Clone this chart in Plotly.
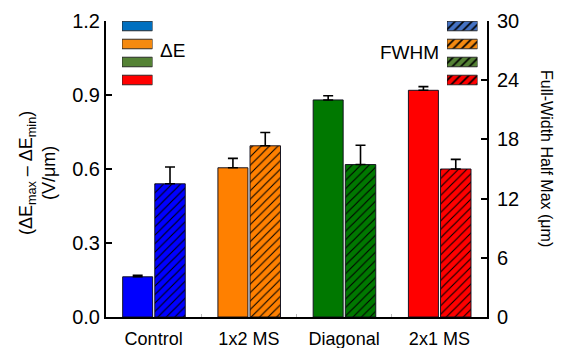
import plotly.graph_objects as go

categories = ["Control", "1x2 MS", "Diagonal", "2x1 MS"]
delta_e = [0.163, 0.605, 0.880, 0.919]
delta_e_err = [0.006, 0.038, 0.017, 0.015]
fwhm = [13.5, 17.35, 15.45, 15.0]
fwhm_err = [1.7, 1.35, 1.95, 0.98]

bar_colors = ["#0000FF", "#FF8000", "#007800", "#FF0000"]
legend_solid_colors = ["#0070C0", "#F58A10", "#548235", "#FF0000"]
legend_hatch_colors = ["#4472C4", "#F58A10", "#548235", "#FF0000"]
legend_rows = [0, 1, 2, 3]

W, H = 561, 348
L, R, T, B = 106, 487, 21, 317

def px_x(p):
    return (p - L) / (R - L)

def px_y(p):
    return (B - p) / (B - T)

FONT = "Liberation Sans, Arial, sans-serif"
OUTLINE = dict(color="rgba(15,15,30,0.95)", width=1)

fig = go.Figure()

fig.add_trace(go.Bar(
    x=categories, y=delta_e, yaxis="y", xaxis="x",
    offset=-0.325, width=0.315,
    marker=dict(color=bar_colors, line=OUTLINE),
    error_y=dict(type="data", symmetric=False, array=delta_e_err,
                 arrayminus=[0] * 4, color="black", thickness=1.6, width=5),
    showlegend=False,
))
for cat, val, err, col in zip(categories, fwhm, fwhm_err, bar_colors):
    fig.add_trace(go.Bar(
        x=[cat], y=[val], yaxis="y2", xaxis="x",
        offset=0.012, width=0.32,
        marker=dict(color=col, line=OUTLINE,
                    pattern=dict(shape="/", fillmode="replace", bgcolor=col,
                                 fgcolor="black", fgopacity=1, size=6, solidity=0.18)),
        error_y=dict(type="data", symmetric=False, array=[err],
                     arrayminus=[0], color="black", thickness=1.6, width=5),
        showlegend=False,
    ))

# legend swatches
fig.add_trace(go.Bar(
    x=[1] * 4, y=legend_rows, orientation="h", xaxis="x3", yaxis="y3",
    width=0.53, base=0,
    marker=dict(color=legend_solid_colors, line=dict(color="rgba(30,30,30,0.9)", width=1)),
    showlegend=False, hoverinfo="skip",
))
for row, col in zip(legend_rows, legend_hatch_colors):
    fig.add_trace(go.Bar(
        x=[1], y=[row], orientation="h", xaxis="x4", yaxis="y4",
        width=0.53, base=0,
        marker=dict(color=col, line=dict(color="rgba(30,30,30,0.9)", width=1),
                    pattern=dict(shape="/", fillmode="replace", bgcolor=col,
                                 fgcolor="black", fgopacity=1, size=6, solidity=0.28)),
        showlegend=False, hoverinfo="skip",
    ))

leg_dom_y = [px_y(89), 1.0]
hidden = dict(visible=False, fixedrange=True, automargin=False)

fig.update_layout(
    template="none",
    width=W, height=H,
    margin=dict(l=L, r=W - R, t=T, b=H - B, pad=0, autoexpand=False),
    paper_bgcolor="white", plot_bgcolor="white",
    font=dict(family=FONT, color="black"),
    barmode="overlay",
    xaxis=dict(
        domain=[0, 1], range=[-0.5, 3.5], showline=True, linecolor="black", linewidth=2,
        ticks="inside", tickson="boundaries", ticklen=3, tickcolor="#bbbbbb",
        tickfont=dict(size=18, family=FONT), ticklabelstandoff=4, showgrid=False,
        zeroline=False, automargin=False,
    ),
    yaxis=dict(
        range=[0, 1.2], dtick=0.3, tick0=0, tickformat=".1f",
        showline=True, linecolor="black", linewidth=2,
        ticks="inside", ticklen=6, tickwidth=1.5, tickcolor="black",
        tickfont=dict(size=20, family=FONT), showgrid=False, zeroline=False,
        ticklabelstandoff=0, automargin=False,
    ),
    yaxis2=dict(
        range=[0, 30], dtick=6, tick0=0, overlaying="y", side="right",
        showline=True, linecolor="black", linewidth=2,
        ticks="inside", ticklen=6, tickwidth=1.5, tickcolor="black",
        tickfont=dict(size=20, family=FONT), showgrid=False, zeroline=False,
        ticklabelstandoff=4, automargin=False,
    ),
    xaxis3=dict(domain=[px_x(122), px_x(152.5)], range=[0, 1], anchor="y3", **hidden),
    yaxis3=dict(domain=leg_dom_y, range=[3.5, -0.278], anchor="x3", **hidden),
    xaxis4=dict(domain=[px_x(447), px_x(477.5)], range=[0, 1], anchor="y4", **hidden),
    yaxis4=dict(domain=leg_dom_y, range=[3.5, -0.278], anchor="x4", **hidden),
)

annotations = [
    dict(text="(ΔE<sub>max</sub> – ΔE<sub>min</sub>)<br>(V/μm)", x=px_x(37), y=px_y(173),
         xref="paper", yref="paper", showarrow=False, textangle=-90,
         font=dict(size=18, family=FONT), xanchor="center", yanchor="middle"),
    dict(text="Full-Width Half Max (μm)", x=px_x(547), y=px_y(158),
         xref="paper", yref="paper", showarrow=False, textangle=90,
         font=dict(size=16, family=FONT), xanchor="center", yanchor="middle"),
    dict(text="ΔE", x=px_x(158), y=px_y(51), xref="paper", yref="paper",
         showarrow=False, font=dict(size=19, family=FONT), xanchor="left", yanchor="middle"),
    dict(text="FWHM", x=px_x(441), y=px_y(52), xref="paper", yref="paper",
         showarrow=False, font=dict(size=19, family=FONT), xanchor="right", yanchor="middle"),
]
fig.update_layout(annotations=annotations)

fig.write_html("out.html", config={"displayModeBar": False},
               post_script="document.body.style.margin='0px';document.body.style.padding='0px';")
